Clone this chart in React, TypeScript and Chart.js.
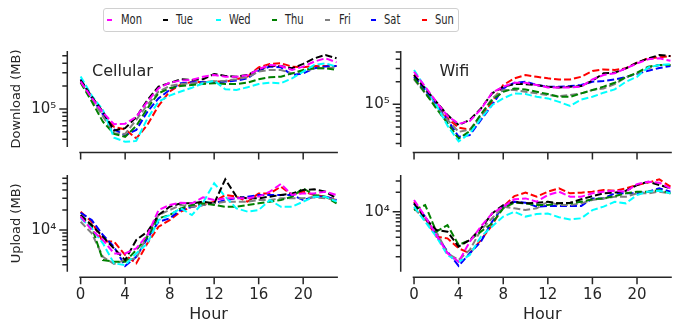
import React, { useEffect, useRef } from 'react';
import { Chart, registerables } from 'chart.js';

Chart.register(...registerables);

const FONT = '"DejaVu Sans", sans-serif';
const INK = '#262626';

const hours = [0, 1, 2, 3, 4, 5, 6, 7, 8, 9, 10, 11, 12, 13, 14, 15, 16, 17, 18, 19, 20, 21, 22, 23];
const days = ['Mon', 'Tue', 'Wed', 'Thu', 'Fri', 'Sat', 'Sun'];
const dayColors = ['#ff00ff', '#000000', '#00ffff', '#008000', '#808080', '#0000ff', '#ff0000'];
const xTickValues = [0, 4, 8, 12, 16, 20];

// Cellular download (MB), rows = Mon..Sun, columns = hour 0..23
const cellularDownload = [
  [229000, 140000, 90000, 63000, 64000, 79000, 125000, 187000, 222000, 236000, 241000, 266000, 280000, 266000, 266000, 277000, 333000, 379000, 368000, 326000, 361000, 420000, 464000, 410000],
  [241000, 145000, 92000, 52000, 56000, 78000, 131000, 197000, 218000, 246000, 241000, 246000, 289000, 272000, 266000, 280000, 333000, 368000, 368000, 343000, 391000, 464000, 514000, 464000],
  [268000, 150000, 97000, 42000, 37000, 38000, 75000, 125000, 150000, 170000, 190000, 218000, 235000, 182000, 178000, 193000, 213000, 222000, 218000, 253000, 310000, 379000, 399000, 361000],
  [222000, 125000, 68000, 47000, 43000, 60000, 102000, 161000, 187000, 201000, 207000, 213000, 218000, 213000, 213000, 222000, 246000, 261000, 266000, 294000, 326000, 343000, 343000, 326000],
  [229000, 135000, 80000, 48000, 47000, 72000, 113000, 169000, 201000, 213000, 218000, 222000, 231000, 236000, 246000, 261000, 310000, 326000, 326000, 294000, 310000, 343000, 343000, 353000],
  [246000, 140000, 85000, 54000, 45000, 53000, 92000, 138000, 178000, 218000, 224000, 227000, 224000, 229000, 236000, 253000, 319000, 361000, 353000, 280000, 294000, 343000, 361000, 368000],
  [229000, 138000, 88000, 58000, 54000, 41000, 62000, 110000, 170000, 210000, 227000, 227000, 229000, 229000, 246000, 266000, 353000, 391000, 399000, 361000, 353000, 368000, 368000, 368000],
];

// Wifi download (MB)
const wifiDownload = [
  [272000, 172000, 108000, 70000, 55000, 60000, 86000, 143000, 172000, 194000, 194000, 181000, 168000, 168000, 168000, 172000, 215000, 246000, 259000, 302000, 351000, 398000, 410000, 381000],
  [246000, 163000, 108000, 72000, 53000, 62000, 88000, 140000, 172000, 186000, 186000, 181000, 172000, 168000, 172000, 175000, 207000, 259000, 264000, 302000, 359000, 410000, 454000, 440000],
  [287000, 168000, 98000, 52000, 32000, 41000, 65000, 98000, 120000, 140000, 137000, 126000, 120000, 108000, 95000, 116000, 126000, 143000, 158000, 200000, 233000, 311000, 334000, 344000],
  [222000, 143000, 88000, 56000, 35000, 44000, 74000, 114000, 147000, 163000, 158000, 147000, 137000, 126000, 126000, 140000, 155000, 172000, 194000, 229000, 264000, 317000, 334000, 334000],
  [215000, 140000, 93000, 62000, 43000, 46000, 72000, 120000, 155000, 155000, 147000, 140000, 133000, 129000, 133000, 140000, 155000, 163000, 186000, 229000, 259000, 302000, 334000, 334000],
  [233000, 155000, 98000, 62000, 37000, 39000, 62000, 98000, 163000, 194000, 200000, 181000, 172000, 172000, 175000, 181000, 200000, 205000, 215000, 230000, 255000, 280000, 305000, 325000],
  [246000, 158000, 103000, 65000, 49000, 46000, 65000, 108000, 181000, 222000, 246000, 233000, 222000, 215000, 215000, 233000, 278000, 292000, 287000, 302000, 359000, 410000, 423000, 440000],
];

// Cellular upload (MB)
const cellularUpload = [
  [15900, 10000, 7100, 4450, 4450, 5300, 8400, 20000, 23800, 25800, 25200, 31000, 28300, 30000, 30000, 30000, 31800, 37800, 49300, 33700, 35600, 35600, 37800, 33700],
  [16800, 11900, 7900, 5300, 3530, 7100, 9400, 16800, 22400, 25200, 25200, 26700, 25200, 58000, 31800, 30000, 30000, 31800, 33700, 35600, 40000, 41000, 37800, 30000],
  [15000, 10600, 6300, 3150, 2970, 4450, 6300, 14100, 16800, 21200, 16800, 25800, 50500, 31800, 21200, 18900, 20000, 28300, 22400, 22400, 26700, 31800, 31800, 26700],
  [15900, 11200, 3530, 3330, 3330, 5000, 7900, 15000, 16800, 21200, 23800, 25200, 23800, 22400, 22400, 23800, 25200, 26700, 28300, 31800, 42400, 33700, 31800, 25200],
  [13300, 8900, 3960, 3080, 3530, 3740, 8400, 16800, 20000, 23800, 22400, 23800, 25200, 26700, 26700, 26700, 28300, 28300, 30000, 30000, 30000, 31000, 30000, 28300],
  [18200, 14100, 8400, 5600, 2870, 3960, 7500, 13300, 15000, 20000, 22400, 23800, 25200, 28300, 30000, 31800, 33700, 33700, 33700, 33700, 28300, 31800, 31800, 28300],
  [18900, 13300, 6700, 6700, 4200, 3150, 6300, 11200, 14100, 18900, 22400, 23800, 26700, 33700, 31800, 26700, 35600, 35600, 44900, 33700, 37800, 33700, 31800, 28300],
];

// Wifi upload (MB)
const wifiUpload = [
  [15200, 8400, 4350, 2260, 1670, 3430, 5900, 9400, 12000, 15600, 16100, 14300, 18200, 20500, 17100, 17100, 19300, 20500, 21200, 20500, 26900, 29300, 28300, 23100],
  [13500, 7900, 5200, 4900, 2870, 3640, 5500, 9400, 12700, 14300, 13500, 13800, 14300, 13500, 13800, 15600, 17500, 19300, 19800, 21200, 26000, 29300, 26000, 23100],
  [12000, 7000, 4100, 2130, 1670, 2130, 4100, 5900, 8400, 10000, 8400, 9200, 9400, 8200, 7600, 7900, 10600, 12000, 14300, 13500, 18200, 20500, 21200, 19300],
  [10600, 12700, 4900, 6200, 3040, 3640, 4900, 6600, 11300, 13800, 13500, 12700, 12700, 13500, 13500, 14300, 15600, 16100, 17500, 19300, 20500, 20500, 21700, 19300],
  [11300, 7400, 4900, 2260, 1780, 2550, 5200, 7900, 12000, 11300, 10600, 11300, 14300, 12700, 12700, 13500, 15200, 16100, 17100, 17100, 19300, 19300, 20500, 19300],
  [13500, 8400, 4350, 2400, 1440, 2260, 3430, 7000, 12000, 14300, 13800, 12000, 12300, 12300, 12300, 12300, 16100, 16100, 19300, 19300, 19300, 20500, 23100, 20500],
  [14300, 7900, 4100, 3860, 2700, 2260, 3640, 6200, 12000, 17500, 19800, 17100, 20500, 23100, 19300, 19800, 20500, 21700, 21200, 23100, 26000, 28300, 31800, 24500],
];

const CANVAS_W = 678;
const CANVAS_H = 340;
const Y_AXIS_W = 79.3;
const X_AXIS_H = 55;

type Panel = {
  data: number[][];
  area: { left: number; right: number; top: number; bottom: number };
  yMin: number;
  yMax: number;
  yTitle: string;
  showX: boolean;
  label: string;
  labelXFrac: number;
};

const panels: Panel[] = [
  { data: cellularDownload, area: { left: 79.3, right: 337.9, top: 51, bottom: 147 }, yMin: 31600, yMax: 579000, yTitle: 'Download (MB)', showX: false, label: 'Cellular', labelXFrac: 0.049 },
  { data: wifiDownload, area: { left: 412.7, right: 671.8, top: 51, bottom: 147 }, yMin: 27000, yMax: 514000, yTitle: '', showX: false, label: 'Wifi', labelXFrac: 0.103 },
  { data: cellularUpload, area: { left: 79.3, right: 337.9, top: 175, bottom: 271.7 }, yMin: 2360, yMax: 67300, yTitle: 'Upload (MB)', showX: true, label: '', labelXFrac: 0 },
  { data: wifiUpload, area: { left: 412.7, right: 671.8, top: 175, bottom: 271.7 }, yMin: 1170, yMax: 37200, yTitle: '', showX: true, label: '', labelXFrac: 0 },
];

const SUP = '⁰¹²³⁴⁵⁶⁷⁸⁹';
function powLabel(v: number): string {
  const e = Math.log10(v);
  const r = Math.round(e);
  if (Math.abs(e - r) > 1e-9) return '';
  return '10' + String(r).split('').map((c) => SUP[Number(c)]).join('');
}

const axesPlugin = {
  id: 'axesDeco',
  afterDraw(chart: any, _args: any, opts: any) {
    const { ctx, chartArea: a, scales } = chart;
    const xs = scales.x;
    const ys = scales.y;
    const sx = a.left - opts.offX;
    const sy = a.bottom + opts.offY;
    ctx.save();
    ctx.strokeStyle = INK;
    ctx.lineWidth = 1.5;
    ctx.lineCap = 'butt';
    ctx.beginPath();
    ctx.moveTo(sx, a.top);
    ctx.lineTo(sx, a.bottom);
    ctx.moveTo(a.left, sy);
    ctx.lineTo(a.right, sy);
    ys.ticks.forEach((t: any) => {
      const py = ys.getPixelForValue(t.value);
      const len = t.major ? opts.majorLen : opts.minorLen;
      ctx.moveTo(sx - len, py);
      ctx.lineTo(sx, py);
    });
    xs.ticks.forEach((t: any) => {
      const px = xs.getPixelForValue(t.value);
      ctx.moveTo(px, sy);
      ctx.lineTo(px, sy + opts.xTickLen);
    });
    ctx.stroke();
    if (opts.label) {
      ctx.fillStyle = INK;
      ctx.font = '16px ' + FONT;
      ctx.textAlign = 'left';
      ctx.textBaseline = 'middle';
      ctx.fillText(opts.label, a.left + opts.labelXFrac * (a.right - a.left), a.top + 0.215 * (a.bottom - a.top));
    }
    ctx.restore();
  },
};

function buildConfig(p: Panel): any {
  return {
    type: 'line',
    data: {
      datasets: days.map((d, i) => ({
        label: d,
        data: hours.map((h, j) => ({ x: h, y: p.data[i][j] })),
        borderColor: dayColors[i],
        backgroundColor: dayColors[i],
        borderWidth: 2,
        borderDash: [7, 3],
        pointRadius: 0,
        fill: false,
        tension: 0,
      })),
    },
    options: {
      responsive: false,
      animation: false,
      events: [],
      layout: {
        padding: {
          left: p.area.left - Y_AXIS_W,
          right: CANVAS_W - p.area.right,
          top: p.area.top,
          bottom: CANVAS_H - p.area.bottom - X_AXIS_H,
        },
      },
      plugins: {
        legend: { display: false },
        tooltip: { enabled: false },
        axesDeco: { offX: 12, offY: 5.5, majorLen: 8, minorLen: 5, xTickLen: 7, label: p.label, labelXFrac: p.labelXFrac },
      },
      scales: {
        x: {
          type: 'linear',
          min: -0.12,
          max: 23.12,
          afterBuildTicks: (s: any) => {
            s.ticks = xTickValues.map((v) => ({ value: v }));
          },
          afterFit: (s: any) => {
            s.height = X_AXIS_H;
          },
          grid: { display: true, drawOnChartArea: false, drawTicks: true, tickLength: 12, color: 'rgba(0,0,0,0)' },
          border: { display: false },
          ticks: { display: p.showX, padding: 2.7, autoSkip: false, maxRotation: 0, color: INK, font: { family: FONT, size: 15 } },
          title: { display: p.showX, text: 'Hour', color: INK, font: { family: FONT, size: 16 }, padding: { top: 0, bottom: 2.1 } },
        },
        y: {
          type: 'logarithmic',
          min: p.yMin,
          max: p.yMax,
          afterBuildTicks: (s: any) => {
            const out: any[] = [];
            const k0 = Math.floor(Math.log10(s.min));
            const k1 = Math.ceil(Math.log10(s.max));
            for (let k = k0; k <= k1; k++) {
              for (let m = 1; m <= 9; m++) {
                const v = m * Math.pow(10, k);
                if (v >= s.min && v <= s.max) out.push({ value: v, major: m === 1 });
              }
            }
            s.ticks = out;
          },
          afterFit: (s: any) => {
            s.width = Y_AXIS_W;
          },
          grid: { display: true, drawOnChartArea: false, drawTicks: true, tickLength: 20, color: 'rgba(0,0,0,0)' },
          border: { display: false },
          ticks: { autoSkip: false, padding: 3, color: INK, font: { family: FONT, size: 15 }, callback: (v: any) => powLabel(Number(v)) },
          title: { display: !!p.yTitle, text: p.yTitle, color: INK, font: { family: FONT, size: 13 }, padding: { top: 8.7, bottom: 0 } },
        },
      },
    },
    plugins: [axesPlugin],
  };
}

const legendMarkX = [107, 163, 216, 272, 325, 371, 421.7];
const legendTextX = [120.7, 176, 228.7, 285, 338.7, 384, 435];

export default function App() {
  const refs = useRef<(HTMLCanvasElement | null)[]>([]);

  useEffect(() => {
    const charts = panels.map((p, i) => new Chart(refs.current[i] as HTMLCanvasElement, buildConfig(p)));
    return () => charts.forEach((c) => c.destroy());
  }, []);

  return (
    <div style={{ position: 'fixed', left: 0, top: 0, width: 678, height: 322, overflow: 'hidden', background: '#ffffff' }}>
      {panels.map((p, i) => (
        <canvas
          key={i}
          ref={(el) => {
            refs.current[i] = el;
          }}
          width={CANVAS_W}
          height={CANVAS_H}
          style={{ position: 'absolute', left: 0, top: 0, width: CANVAS_W, height: CANVAS_H }}
        />
      ))}
      <div
        style={{
          position: 'absolute',
          left: 103,
          top: 8,
          width: 356,
          height: 24,
          border: '1px solid #d0d0d0',
          borderRadius: 3,
          background: '#ffffff',
          boxSizing: 'border-box',
        }}
      >
        {days.map((d, i) => (
          <React.Fragment key={d}>
            <div style={{ position: 'absolute', left: legendMarkX[i] - 104, top: 9.5, width: 5, height: 2, background: dayColors[i] }} />
            <span
              style={{
                position: 'absolute',
                left: legendTextX[i] - 104,
                top: 2.7,
                font: '14.5px ' + FONT,
                lineHeight: 1,
                color: INK,
                whiteSpace: 'nowrap',
                transform: 'scaleX(0.685)',
                transformOrigin: 'left center',
              }}
            >
              {d}
            </span>
          </React.Fragment>
        ))}
      </div>
    </div>
  );
}
